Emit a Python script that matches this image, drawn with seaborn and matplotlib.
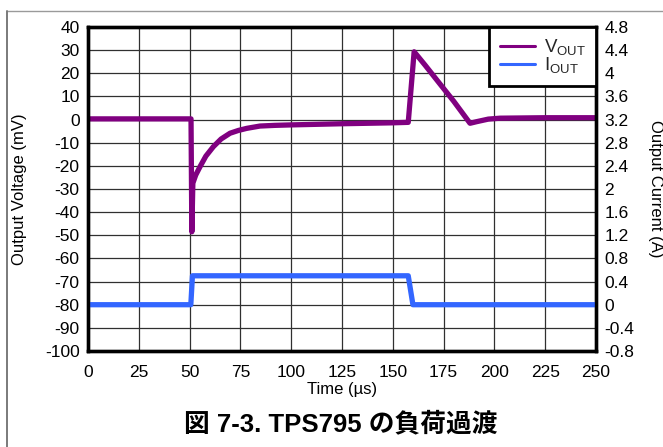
import matplotlib
matplotlib.use("Agg")
import matplotlib.pyplot as plt
from matplotlib.lines import Line2D
import seaborn as sns
import pandas as pd

# Output voltage deviation trace (time in µs, deviation in mV)
vout_time_us = [0, 50.7, 51.1, 51.6, 53.0, 55.1, 58.0, 61.7, 65.5, 69.9, 74.0,
                78.1, 84.6, 92.0, 100, 125, 150, 157.6, 160.5, 166.0, 173.2,
                180.0, 188.0, 191.3, 197.0, 202.8, 225, 250]
vout_mv = [0.3, 0.3, -48.5, -27.5, -24.0, -20.4, -15.8, -11.7, -8.4, -5.9, -4.7,
           -3.8, -2.8, -2.5, -2.3, -1.8, -1.4, -1.2, 29.3, 23.4, 15.4,
           7.9, -1.6, -0.9, 0.2, 0.6, 0.8, 0.8]

# Load current step (time in µs, current in A)
iout_time_us = [0, 50.6, 51.4, 157.6, 159.9, 250]
iout_a = [0, 0, 0.5, 0.5, 0, 0]

x_ticks = [0, 25, 50, 75, 100, 125, 150, 175, 200, 225, 250]
mv_ticks = list(range(-100, 41, 10))
amp_ticks = [-0.8, -0.4, 0, 0.4, 0.8, 1.2, 1.6, 2, 2.4, 2.8, 3.2, 3.6, 4, 4.4, 4.8]
amp_tick_labels = ["-0.8", "-0.4", "0", "0.4", "0.8", "1.2", "1.6", "2", "2.4",
                   "2.8", "3.2", "3.6", "4", "4.4", "4.8"]

title_text = "図 7-3. TPS795 の負荷過渡"

sns.set_theme(style="white")
plt.rcParams["font.family"] = ["Liberation Sans", "Noto Sans CJK JP", "DejaVu Sans"]
plt.rcParams["mathtext.default"] = "regular"
plt.rcParams["axes.unicode_minus"] = False

vout_color = "#800080"
iout_color = "#3366ff"

fig = plt.figure(figsize=(6.63, 4.47), dpi=100)
fig.patch.set_facecolor("white")
ax = fig.add_axes([88 / 663, 1 - 351 / 447, 508 / 663, 324 / 447])

vout_df = pd.DataFrame({"t": vout_time_us, "v": vout_mv})
iout_df = pd.DataFrame({"t": iout_time_us, "i": iout_a})

sns.lineplot(data=vout_df, x="t", y="v", ax=ax, color=vout_color, linewidth=3.8,
             estimator=None, sort=False, legend=False)
ax.set_xlim(0, 250)
ax.set_ylim(-100, 40)
ax.set_xticks(x_ticks)
ax.set_yticks(mv_ticks)
ax.grid(True, color="#303030", linewidth=0.9)
ax.set_axisbelow(True)

ax2 = ax.twinx()
sns.lineplot(data=iout_df, x="t", y="i", ax=ax2, color=iout_color, linewidth=3.8,
             estimator=None, sort=False, legend=False)
ax2.set_ylim(-0.8, 4.8)
ax2.set_yticks(amp_ticks)
ax2.set_yticklabels(amp_tick_labels)
ax2.grid(False)

for a in (ax, ax2):
    for s in a.spines.values():
        s.set_linewidth(2.4)
        s.set_color("black")
    a.tick_params(length=0, labelsize=12.5, colors="black")
ax.tick_params(axis="x", pad=10)
ax.tick_params(axis="y", pad=6)
ax2.tick_params(axis="y", pad=6)

ax.set_xlabel("Time (µs)", fontsize=12, color="black")
ax.xaxis.set_label_coords(0.5, -0.097)
ax.set_ylabel("Output Voltage (mV)", fontsize=12, color="black")
ax.yaxis.set_label_coords((27.5 - 88) / 508, 0.5)
ax2.set_ylabel("Output Current (A)", fontsize=12, color="black", rotation=270,
               va="bottom")
ax2.yaxis.set_label_coords((648.5 - 88) / 508, 0.5)

handles = [Line2D([], [], color=vout_color, linewidth=2.2),
           Line2D([], [], color=iout_color, linewidth=2.2)]
leg = ax2.legend(handles, ["V$_{\\mathregular{OUT}}$", "I$_{\\mathregular{OUT}}$"],
                 loc="upper right", borderaxespad=0, fontsize=13.5, frameon=True,
                 fancybox=False, framealpha=1, edgecolor="black",
                 handlelength=1.9, handletextpad=0.45, borderpad=0.55,
                 labelspacing=-0.1)
leg.get_frame().set_linewidth(2.0)

fig.text(340.5 / 663, 1 - 424 / 447, title_text, ha="center", va="center",
         fontsize=18.5, fontweight="bold", color="black")

# page frame around the figure
fig.add_artist(Line2D([6.5 / 663, 1], [1 - 10.5 / 447] * 2, transform=fig.transFigure,
                      color="#9a9a9a", linewidth=1.0))
fig.add_artist(Line2D([6.5 / 663] * 2, [0, 1 - 10.5 / 447], transform=fig.transFigure,
                      color="#7a7a7a", linewidth=1.4))

fig.savefig("out.png", dpi=100)
